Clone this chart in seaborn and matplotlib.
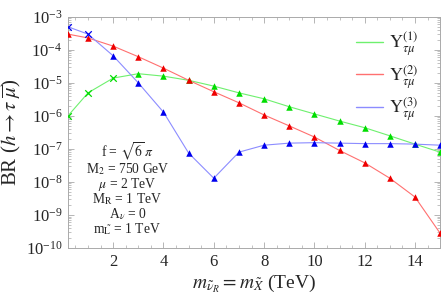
import numpy as np
import pandas as pd
import matplotlib
matplotlib.use("Agg")
import matplotlib.pyplot as plt
import matplotlib.ticker as mticker
import seaborn as sns

mass = [0.2, 1, 2, 3, 4, 5, 6, 7, 8, 9, 10, 11, 12, 13, 14, 15]
y1 = [1.0e-6, 5.0e-6, 1.4e-5, 1.9e-5, 1.6e-5, 1.2e-5, 8.0e-6, 5.0e-6, 3.3e-6, 1.9e-6,
      1.15e-6, 7.0e-7, 4.4e-7, 2.5e-7, 1.4e-7, 8.0e-8]
y2 = [3.0e-4, 2.3e-4, 1.3e-4, 6.2e-5, 2.8e-5, 1.2e-5, 5.4e-6, 2.5e-6, 1.07e-6, 5.0e-7,
      2.3e-7, 9.0e-8, 3.8e-8, 1.3e-8, 3.5e-9, 2.8e-10]
y3 = [5.0e-4, 3.0e-4, 6.6e-5, 1.0e-5, 1.3e-6, 7.5e-8, 1.3e-8, 8.0e-8, 1.3e-7, 1.5e-7,
      1.55e-7, 1.5e-7, 1.45e-7, 1.45e-7, 1.4e-7, 1.3e-7]
m1 = ['x', 'x', 'x', '^', '^', '^', '^', '^', '^', '^', '^', '^', '^', '^', '^', '^']
m2 = ['^'] * 16
m3 = ['x', 'x', '^', '^', '^', '^', '^', '^', '^', '^', '^', '^', '^', '^', '^', '^']
labels = [r"$\mathrm{Y}^{(1)}_{\tau\mu}$", r"$\mathrm{Y}^{(2)}_{\tau\mu}$", r"$\mathrm{Y}^{(3)}_{\tau\mu}$"]
yticks = [1e-10, 1e-9, 1e-8, 1e-7, 1e-6, 1e-5, 1e-4, 1e-3]
xticks = [2, 4, 6, 8, 10, 12, 14]
param_lines = ["f = $\\sqrt{6}\\,\\pi$",
               "M$_2$ = 750 GeV",
               "$\\mu$ = 2 TeV",
               "M$_\\mathrm{R}$ = 1 TeV",
               "A$_\\nu$ = 0",
               "m$_{\\tilde{\\mathrm{L}}}$ = 1 TeV"]

line_cols = ["#6ef06e", "#ff7070", "#8c8cff"]
mark_cols = ["#00dd00", "#ee0000", "#0000ee"]

rows = []
for lab, ys, ms in zip(labels, [y1, y2, y3], [m1, m2, m3]):
    for x, y, m in zip(mass, ys, ms):
        rows.append(dict(series=lab, x=x, y=y, mk=m))
df = pd.DataFrame(rows)

sns.set_theme(style="ticks")
plt.rcParams['font.family'] = ['Liberation Serif', 'DejaVu Serif']
plt.rcParams['mathtext.fontset'] = 'stix'

fig = plt.figure(figsize=(4.41, 3.01), dpi=100)
ax = fig.add_axes([0.154, 0.176, 0.844, 0.768])

sns.lineplot(data=df, x='x', y='y', hue='series', palette=dict(zip(labels, line_cols)),
             linewidth=0.8, ax=ax, legend=True, sort=False)
for lab, mc in zip(labels, mark_cols):
    sub = df[df.series == lab]
    for mk in ['x', '^']:
        s2 = sub[sub.mk == mk]
        if len(s2):
            sns.scatterplot(data=s2, x='x', y='y', color=mc, marker=mk, s=22,
                            linewidth=0.9 if mk == 'x' else 0, edgecolor=mc if mk == '^' else None,
                            ax=ax, legend=False, zorder=3)

ax.set_yscale('log')
ax.set_xlim(0.2, 15)
ax.set_ylim(1e-10, 1e-3)
ax.set_yticks(yticks)
ax.yaxis.set_major_formatter(mticker.LogFormatterMathtext())
ax.yaxis.set_minor_locator(mticker.LogLocator(base=10, subs=np.arange(2, 10), numticks=20))
ax.yaxis.set_minor_formatter(mticker.NullFormatter())
ax.set_xticks(xticks)
ax.xaxis.set_minor_locator(mticker.MultipleLocator(0.5))
ax.tick_params(which='both', direction='in', top=True, right=True, color='#aaaaaa',
               labelsize=12, pad=4)
ax.tick_params(which='major', length=4, width=0.6)
ax.tick_params(which='minor', length=2, width=0.5)
for sp in ax.spines.values():
    sp.set_color('#aaaaaa')
    sp.set_linewidth(0.7)

ax.set_xlabel(r"$m_{\tilde{\nu}_R} = m_{\tilde{X}}$ (TeV)", fontsize=14, labelpad=2)
ax.set_ylabel(r"BR ($h \rightarrow \tau\;\overline{\mu}$)", fontsize=15, labelpad=2)

leg = ax.legend(loc='upper right', frameon=False, fontsize=13, handlelength=1.5,
                handletextpad=0.3, labelspacing=0.25, borderaxespad=0.3,
                bbox_to_anchor=(0.975, 0.995))
for h in leg.get_lines():
    h.set_linewidth(1.0)

y0 = 0.405
dy = 0.065
for i, t in enumerate(param_lines):
    ypos = y0 - i * dy + (0.012 if i == 0 else 0.0)
    ax.text(0.16, ypos, t, transform=ax.transAxes, ha='center', va='center',
            fontsize=9.8)

fig.savefig('out.png', dpi=100)
